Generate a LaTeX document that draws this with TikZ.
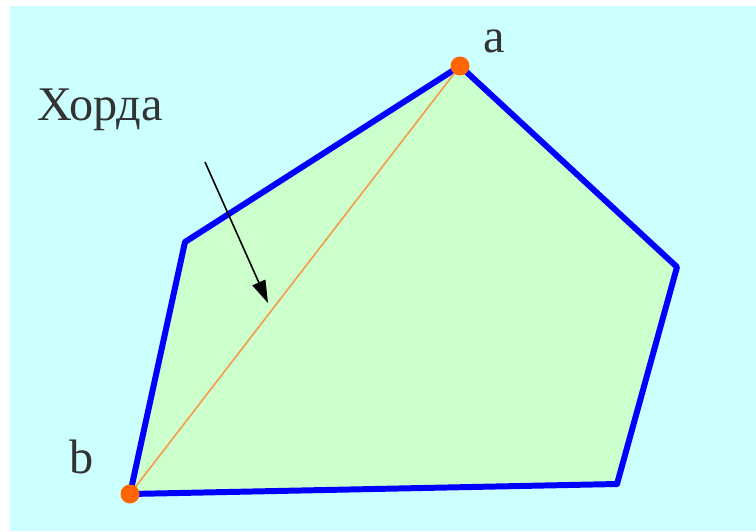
\documentclass[tikz,border=0pt]{standalone}
\usepackage{fontspec}
\setmainfont{Liberation Serif}
\usetikzlibrary{arrows.meta}
\definecolor{chbg}{HTML}{CCFFFF}
\definecolor{chfill}{HTML}{CCFFCC}
\definecolor{chblue}{HTML}{0000FF}
\definecolor{chorange}{HTML}{FF6600}
\definecolor{chline}{HTML}{F59A4A}
\definecolor{chtext}{HTML}{333333}

\begin{document}
\begin{tikzpicture}[
  x=0.02cm, y=-0.02cm,
  poly/.style={draw=chblue, fill=chfill, line width=3.4pt, line join=round},
  chord/.style={chline, line width=0.9pt},
  dot/.style={circle, fill=chorange, inner sep=0pt, minimum size=0.38cm},
  lbl/.style={inner sep=0pt, text=chtext, font=\fontsize{27.5}{32}\selectfont},
  arr/.style={-{Triangle[length=4.5mm, width=2.8mm]}, line width=0.9pt, black}
]
  \fill[white] (0,0) rectangle (756,531);
  \fill[chbg] (10,6) rectangle (756,531);
  \useasboundingbox (0,0) rectangle (756,531);

  \coordinate (a) at (460,66);
  \coordinate (r1) at (677,267);
  \coordinate (r2) at (617,484);
  \coordinate (b) at (130,494);
  \coordinate (l) at (185,242);

  \filldraw[poly] (a) -- (r1) -- (r2) -- (b) -- (l) -- cycle;
  \draw[chord] (a) -- (b);

  \node[dot] (adot) at (a) {};
  \node[dot] (bdot) at (b) {};

  \node[lbl, anchor=base west] (alab) at (483,52) {a};
  \node[lbl, anchor=base west] (blab) at (69,473) {b};
  \node[lbl, anchor=base west] (chordlab) at (37,120) {Хорда};

  \coordinate (tail) at (205,162);
  \coordinate (head) at (268,303);
  \draw[arr] (tail) -- (head);
\end{tikzpicture}
\end{document}
